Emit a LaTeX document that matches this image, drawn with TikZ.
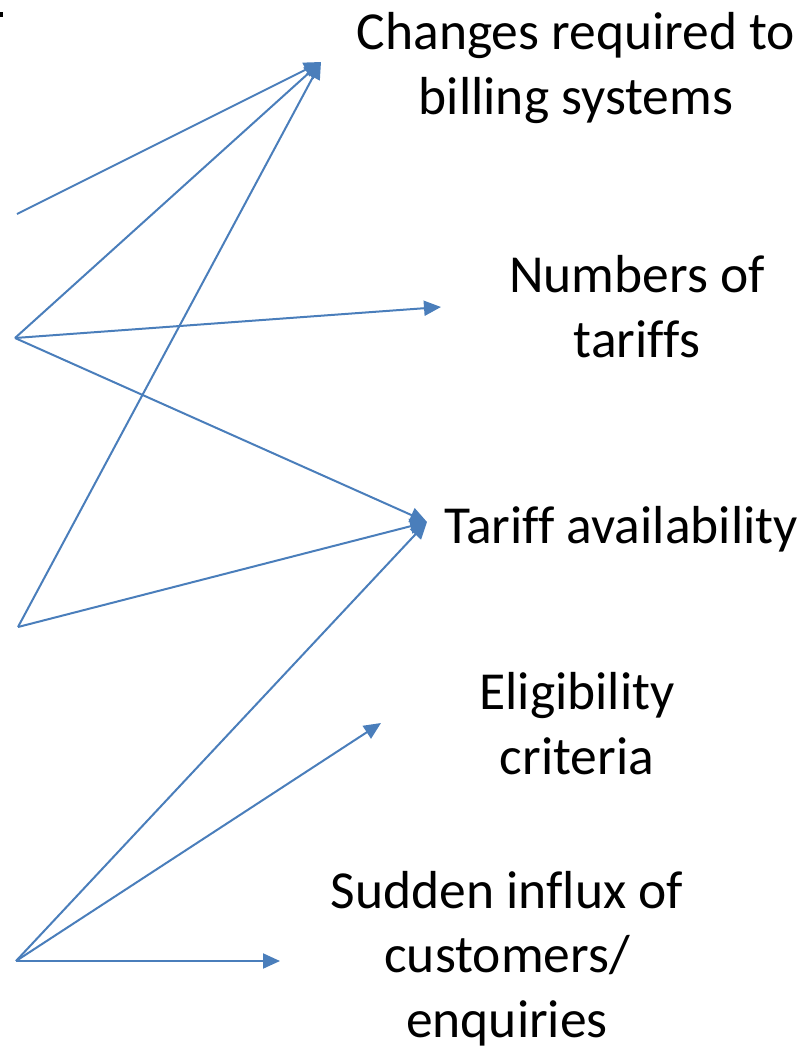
\documentclass[tikz,border=0pt]{standalone}
\usepackage{fontspec}
\setmainfont{Carlito}[Ligatures=NoCommon]
\usetikzlibrary{arrows.meta}
\definecolor{lineblue}{RGB}{74,126,187}
\tikzset{
  label/.style={font=\fontsize{53.5}{64.5}\selectfont, align=center, inner sep=0pt, anchor=base, text=black},
  link/.style={draw=lineblue, line width=2pt, -{Triangle[length=17pt,width=15pt]}}
}
\begin{document}
\begin{tikzpicture}[x=1pt,y=-1pt]
\useasboundingbox (0,0) rectangle (803,1049);
% cut-off text fragment at the top-left edge
\fill[black] (0,12.3) rectangle (3.3,17.3);
% labels (anchored at the baseline of their last line)
\node[label] (lchg) at (576,114) {Changes required to\\billing systems};
\node[label] (lnum) at (637,357) {Numbers of\\tariffs};
\node[label] (lavl) at (621,543) {Tariff availability};
\node[label] (lelg) at (577,774) {Eligibility\\criteria};
\node[label] (lsud) at (507,1037) {Sudden influx of\\customers/\\enquiries};
% sources
\coordinate (a1) at (17,214);
\coordinate (a2) at (15,338);
\coordinate (a3) at (18,627);
\coordinate (a4) at (16,961);
% targets (arrow tips)
\coordinate (t1) at (321,62);
\coordinate (t2) at (441,307);
\coordinate (t3) at (427,522);
\coordinate (t4) at (381,723);
\coordinate (t5) at (280,961);
% connectors
\draw[link] (a1) -- (t1);
\draw[link] (a2) -- (t1);
\draw[link] (a2) -- (t2);
\draw[link] (a2) -- (t3);
\draw[link] (a3) -- (t1);
\draw[link] (a3) -- (t3);
\draw[link] (a4) -- (t3);
\draw[link] (a4) -- (t4);
\draw[link] (a4) -- (t5);
\end{tikzpicture}
\end{document}
